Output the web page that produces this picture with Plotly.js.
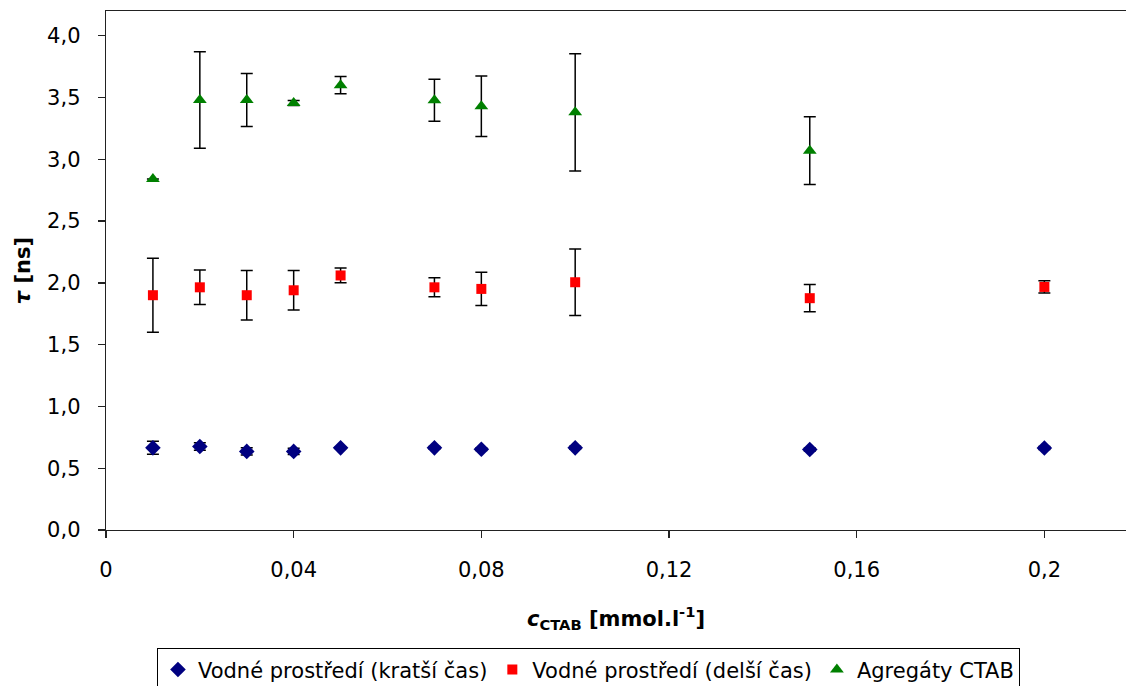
<!DOCTYPE html>
<html>
<head>
<meta charset="utf-8">
<script src="https://cdn.plot.ly/plotly-3.0.1.min.js"></script>
<style>html,body{margin:0;padding:0;background:#fff;}#chart{width:1126px;height:686px;}</style>
</head>
<body>
<div id="chart"></div>
<script>
// concentrations (mmol/l)
const xShort = [0.01, 0.02, 0.03, 0.04, 0.05, 0.07, 0.08, 0.10, 0.15, 0.20];
const tauShort = [0.665, 0.676, 0.636, 0.636, 0.665, 0.665, 0.654, 0.665, 0.651, 0.664];
const errShort = [0.053, 0.03, 0.03, 0.025, 0.006, 0.01, 0.01, 0.012, 0.012, 0.012];

const xLong = [0.01, 0.02, 0.03, 0.04, 0.05, 0.07, 0.08, 0.10, 0.15, 0.20];
const tauLong = [1.90, 1.964, 1.90, 1.94, 2.06, 1.964, 1.951, 2.005, 1.876, 1.967];
const errLong = [0.30, 0.14, 0.20, 0.16, 0.06, 0.077, 0.134, 0.27, 0.11, 0.05];

const xAgg = [0.01, 0.02, 0.03, 0.04, 0.05, 0.07, 0.08, 0.10, 0.15];
const tauAgg = [2.84, 3.48, 3.48, 3.455, 3.60, 3.477, 3.43, 3.38, 3.07];
const errAgg = [null, 0.39, 0.215, 0.02, 0.07, 0.17, 0.245, 0.475, 0.275];

const names = ['Vodné prostředí (kratší čas)', 'Vodné prostředí (delší čas)', 'Agregáty CTAB'];
const xTickVals = [0, 0.04, 0.08, 0.12, 0.16, 0.2];
const yTickVals = [0, 0.5, 1, 1.5, 2, 2.5, 3, 3.5, 4];

const eb = (arr) => ({type: 'data', array: arr, visible: true, color: '#000', thickness: 1.5, width: 6});

const traces = [
  {x: xShort, y: tauShort, name: names[0], type: 'scatter', mode: 'markers',
   marker: {symbol: 'diamond', size: 12, color: '#000080'}, error_y: eb(errShort)},
  {x: xLong, y: tauLong, name: names[1], type: 'scatter', mode: 'markers',
   marker: {symbol: 'square', size: 10, color: '#FF0000'}, error_y: eb(errLong)},
  {x: xAgg, y: tauAgg, name: names[2], type: 'scatter', mode: 'markers',
   marker: {symbol: 'triangle-up', size: 12, color: '#008000'}, error_y: eb(errAgg)}
];

const layout = {
  width: 1126, height: 686,
  margin: {l: 106, r: 0, t: 11, b: 155.5, autoexpand: false},
  paper_bgcolor: '#fff', plot_bgcolor: '#fff',
  separators: ', ',
  font: {family: 'DejaVu Sans, Liberation Sans, Arial, sans-serif', size: 21, color: '#000'},
  showlegend: true,
  xaxis: {
    range: [0, 0.2174], tickvals: xTickVals, automargin: false,
    showgrid: false, zeroline: false,
    showline: true, linecolor: '#222', linewidth: 1.3, mirror: true,
    ticks: 'outside', ticklen: 7, tickcolor: '#222', tickwidth: 1.3,
    ticklabelstandoff: 13,
    tickfont: {size: 21},
    title: {text: '<b><i>c</i><sub>CTAB</sub> [mmol.l<sup>-1</sup>]</b>', font: {size: 21}, standoff: 30}
  },
  yaxis: {
    range: [0, 4.2], tickvals: yTickVals, tickformat: '.1f', automargin: false,
    showgrid: false, zeroline: false,
    showline: true, linecolor: '#222', linewidth: 1.3,
    ticks: 'outside', ticklen: 7, tickcolor: '#222', tickwidth: 1.3,
    ticklabelstandoff: 13,
    tickfont: {size: 21},
    title: {text: '<b><i>τ</i> [ns]</b>', font: {size: 21}, standoff: 10}
  },
  legend: {
    orientation: 'h', x: 0.473, xanchor: 'center', y: -0.228, yanchor: 'top',
    bordercolor: '#000', borderwidth: 1, bgcolor: '#fff',
    font: {size: 21}, itemsizing: 'trace', tracegroupgap: 0
  }
};

Plotly.newPlot('chart', traces, layout, {displayModeBar: false, staticPlot: true});
</script>
</body>
</html>
